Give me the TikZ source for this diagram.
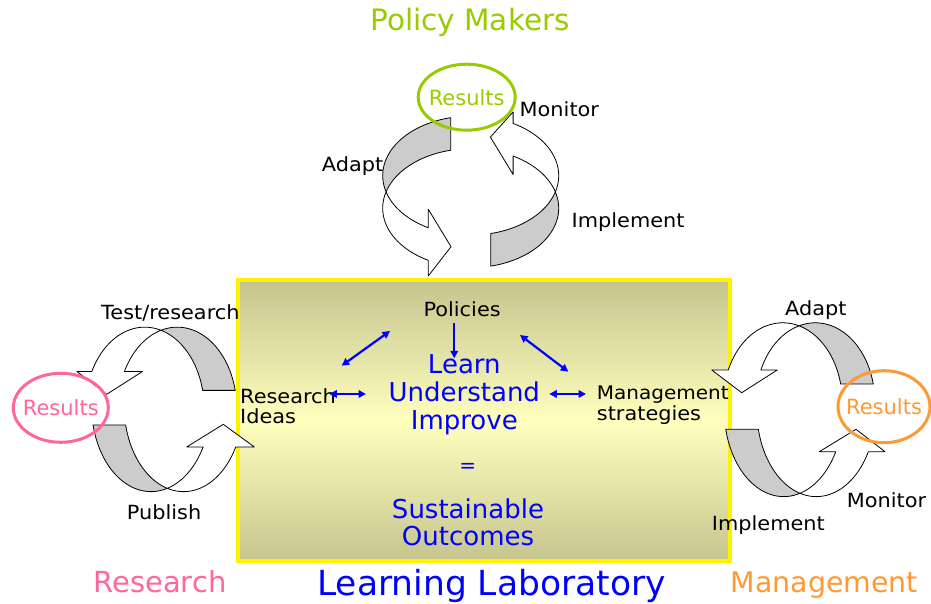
\documentclass[tikz,border=0pt]{standalone}
\usepackage{fontspec}
\setmainfont{DejaVu Sans}
\newfontfamily\lblfont[FakeStretch=1.07]{DejaVu Sans}
\usetikzlibrary{shapes.geometric, arrows.meta}
\definecolor{pmgreen}{RGB}{153,204,0}
\definecolor{rspink}{RGB}{255,102,153}
\definecolor{mgorange}{RGB}{255,153,51}
\definecolor{bandgray}{RGB}{204,204,204}
\definecolor{boxdark}{RGB}{198,196,142}
\definecolor{boxlight}{RGB}{255,255,190}
\definecolor{llblue}{RGB}{0,0,255}
\newcommand{\fs}[1]{\fontsize{#1bp}{#1bp}\selectfont}
% circular ribbon arrow: #1 centre, #2 xscale, #3 yscale, #4 rotation,
% #5 head base x, #6 #7 barb y, #8 tip
\newcommand{\cycarrow}[8]{%
  \begin{scope}[shift={(#1)}, xscale=#2, yscale=#3, rotate=#4]
    \pgfmathsetmacro\tcut{acos(-20/88)}
    \pgfmathsetmacro\tbase{360-acos(#5/88)}
    \filldraw[band, fill=bandgray]
      plot[domain=\tcut:195.9] ({88*cos(\x)},{16.3+59.5*sin(\x)})
      -- plot[domain=164.1:\tcut] ({88*cos(\x)},{-16.3+59.5*sin(\x)}) -- cycle;
    \filldraw[band, fill=white]
      plot[domain=195.9:\tbase] ({88*cos(\x)},{16.3+59.5*sin(\x)})
      -- (#5,#6) -- (#8) -- (#5,#7)
      -- plot[domain=\tbase:164.1] ({88*cos(\x)},{-16.3+59.5*sin(\x)}) -- cycle;
  \end{scope}}
\tikzset{
  band/.style={draw=black, line width=0.8bp, line join=round, samples=40},
  lbl/.style={font=\lblfont\fs{19.5}, text=black, inner sep=0pt, anchor=base west},
  bluetxt/.style={font=\fs{26}, text=llblue, inner sep=0pt, anchor=base},
  title/.style={inner sep=0pt, anchor=base},
  res/.style={ellipse, line width=3bp, inner sep=0pt},
  barrow/.style={draw=llblue, line width=2.2bp, {Triangle[length=7.5bp,width=7.5bp]}-{Triangle[length=7.5bp,width=7.5bp]}},
  sarrow/.style={draw=llblue, line width=2.2bp, -{Triangle[length=7.5bp,width=7.5bp]}},
}
\begin{document}
\begin{tikzpicture}[x=1bp,y=1bp]
\useasboundingbox (0,0) rectangle (931,604);
\fill[white] (0,0) rectangle (931,604);
% central box
\node[draw=yellow, line width=4bp, minimum width=491.7bp, minimum height=281bp, inner sep=0pt,
  top color=boxdark, bottom color=boxdark, middle color=boxlight] (lab) at (483.9,183.2) {};
% cycles
\cycarrow{470.7,412.1}{1}{1}{0}{-42.4}{-17.4}{-84.1}{-19.7,-54.8}
\cycarrow{470.7,412.1}{1}{1}{180}{-42.4}{-17.4}{-80}{-19.7,-54.8}
\cycarrow{161,195}{1}{0.93}{-90}{-40.3}{-18.5}{-84.1}{-15.8,-54.3}
\cycarrow{167.3,198.6}{1}{0.98}{90}{-42.4}{-19.4}{-87}{-19.3,-56}
\cycarrow{799,202}{1}{0.90}{-90}{-35.6}{-21.7}{-87.3}{-10.3,-57.3}
\cycarrow{800,194.5}{1}{0.99}{90}{-42.6}{-19.3}{-85}{-20,-56}
% results ellipses
\node[res, draw=pmgreen, minimum width=97bp, minimum height=66bp,
  label={[text=pmgreen, font=\fs{21}, inner sep=0pt]center:Results}] (resP) at (466.7,506.8) {};
\node[res, draw=rspink, minimum width=95bp, minimum height=69bp,
  label={[text=rspink, font=\fs{21}, inner sep=0pt]center:Results}] (resR) at (60.8,196.2) {};
\node[res, draw=mgorange, minimum width=92bp, minimum height=72bp,
  label={[text=mgorange, font=\fs{21}, inner sep=0pt]center:Results}] (resM) at (884,197.3) {};
% cycle labels
\node[lbl] (adaptP) at (321.7,432) {Adapt};
\node[lbl] (monP) at (519.5,487.5) {Monitor};
\node[lbl] (impP) at (571.5,376) {Implement};
\node[lbl] (testR) at (101,284) {Test/research};
\node[lbl] (pubR) at (126.7,84) {Publish};
\node[lbl] (adaptM) at (785,288) {Adapt};
\node[lbl] (monM) at (846.7,96) {Monitor};
\node[lbl] (impM) at (711.7,73) {Implement};
% box texts
\node[lbl] (pol) at (423.3,287.3) {Policies};
\node[lbl] (resI1) at (240,200.7) {Research};
\node[lbl] (resI2) at (240,180.7) {Ideas};
\node[lbl, font=\lblfont\fs{18.7}] (mgs1) at (596.7,204) {Management};
\node[lbl] (mgs2) at (596.7,183) {strategies};
\node[bluetxt] (learn) at (464.3,230.7) {Learn};
\node[bluetxt] (under) at (464.3,202.3) {Understand};
\node[bluetxt] (impr) at (464.3,174) {Improve};
\node[font=\fs{20}, text=llblue, inner sep=0pt] (eq) at (467.7,136.3) {=};
\node[bluetxt] (sust) at (468,85.7) {Sustainable};
\node[bluetxt] (outc) at (468,58.3) {Outcomes};
% blue connectors
\coordinate (c1a) at (454.3,280.7); \coordinate (c1b) at (454.3,245.7);
\coordinate (c2a) at (390,273);     \coordinate (c2b) at (341.7,238.3);
\coordinate (c3a) at (520,269);     \coordinate (c3b) at (568.3,232.3);
\coordinate (c4a) at (329.3,210);   \coordinate (c4b) at (366,210);
\coordinate (c5a) at (549.3,210);   \coordinate (c5b) at (586,210);
\draw[sarrow] (c1a) -- (c1b);
\draw[barrow] (c2a) -- (c2b);
\draw[barrow] (c3a) -- (c3b);
\draw[barrow] (c4a) -- (c4b);
\draw[barrow] (c5a) -- (c5b);
% titles
\node[title, font=\fs{29.5}, text=pmgreen] (tPM) at (470,573.3) {Policy Makers};
\node[title, font=\fs{29}, text=rspink] (tRes) at (160,11) {Research};
\node[title, font=\fs{34.5}, text=llblue] (tLL) at (491.5,8) {Learning Laboratory};
\node[title, font=\fs{28.4}, text=mgorange] (tMg) at (824.5,11) {Management};
\end{tikzpicture}
\end{document}
